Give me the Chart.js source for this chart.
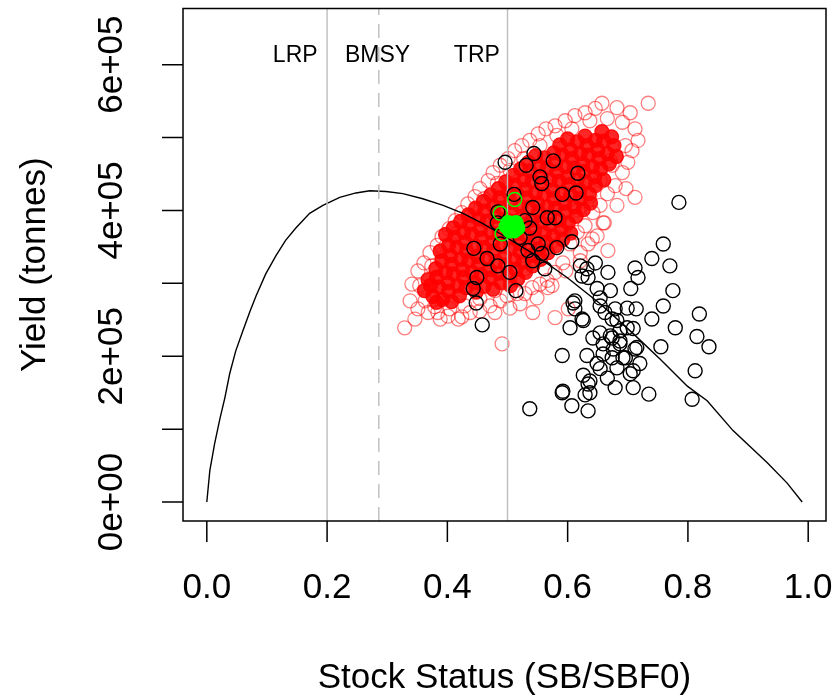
<!DOCTYPE html>
<html>
<head>
<meta charset="utf-8">
<script src="https://cdn.jsdelivr.net/npm/chart.js@4.4.1/dist/chart.umd.min.js"></script>
<style>
  html, body { margin: 0; padding: 0; background: #fff; }
  canvas { display: block; }
</style>
</head>
<body>
<canvas id="yieldPlot" width="839" height="698"></canvas>
<script>
// data ------------------------------------------->
// x = stock status (SB/SBF0), y = yield in units of 1e5 tonnes
const YUNIT = 1e5

const xTicks = [0, 0.2, 0.4, 0.6, 0.8, 1.0]
const xLabels = ['0.0', '0.2', '0.4', '0.6', '0.8', '1.0']
const yTicks = [0, 1e5, 2e5, 3e5, 4e5, 5e5, 6e5]
const yLabelTicks = [0, 2e5, 4e5, 6e5]
const yLabels = ['0e+00', '2e+05', '4e+05', '6e+05']

// reference points
const refX = [0.2, 0.286, 0.5]
const refLabels = ['LRP', 'BMSY', 'TRP']
const refLabelX = [0.147, 0.284, 0.449]
const refLabelY = 6.03e5

// equilibrium yield curve
const curve = [
  [0.0,0],[0.005,0.43],[0.013,0.80],[0.022,1.15],[0.030,1.43],[0.038,1.76],[0.048,2.07],
  [0.060,2.35],[0.072,2.62],[0.082,2.83],[0.098,3.13],[0.115,3.38],[0.131,3.59],[0.148,3.76],
  [0.171,3.96],[0.193,4.07],[0.221,4.18],[0.248,4.24],[0.271,4.27],[0.298,4.26],[0.326,4.23],
  [0.359,4.16],[0.393,4.07],[0.426,3.96],[0.459,3.82],[0.488,3.68],[0.542,3.41],[0.599,3.08],
  [0.654,2.72],[0.709,2.31],[0.754,1.96],[0.799,1.59],[0.832,1.39],[0.875,0.98],[0.932,0.54],
  [0.965,0.26],[0.990,0.0]
]

// projected states (red), dense centre of the cloud
const redCore = [
  [0.376,2.82],[0.386,2.95],[0.401,3.01],[0.410,3.13],[0.425,3.19],[0.436,3.31],[0.450,3.37],[0.461,3.49],
  [0.475,3.56],[0.486,3.68],[0.500,3.74],[0.511,3.85],[0.525,3.92],[0.536,4.04],[0.550,4.10],[0.561,4.22],
  [0.575,4.28],[0.586,4.40],[0.600,4.46],[0.611,4.58],[0.625,4.64],[0.635,4.76],[0.650,4.83],[0.660,4.95],
  [0.673,5.01],
  [0.392,2.78],[0.402,2.89],[0.417,2.97],[0.427,3.08],[0.441,3.15],[0.452,3.26],[0.466,3.33],[0.477,3.44],
  [0.491,3.51],[0.502,3.62],[0.516,3.69],[0.527,3.80],[0.541,3.87],[0.552,3.98],[0.566,4.05],[0.577,4.16],
  [0.591,4.24],[0.602,4.35],[0.616,4.42],[0.627,4.53],[0.641,4.60],[0.652,4.71],[0.666,4.78],[0.677,4.89],
  [0.372,2.97],[0.382,3.08],[0.397,3.15],[0.407,3.26],[0.422,3.33],[0.432,3.44],[0.447,3.51],[0.457,3.62],
  [0.472,3.70],[0.482,3.81],[0.497,3.88],[0.507,3.99],[0.521,4.06],[0.532,4.17],[0.546,4.24],[0.557,4.35],
  [0.571,4.42],[0.582,4.53],[0.596,4.60],[0.607,4.71],[0.621,4.78],[0.632,4.89],[0.646,4.96],[0.657,5.08],
  [0.407,2.75],[0.420,2.83],[0.431,2.94],[0.445,3.01],[0.456,3.12],[0.470,3.19],[0.481,3.30],[0.495,3.37],
  [0.505,3.48],[0.520,3.55],[0.530,3.66],[0.545,3.73],[0.555,3.84],[0.570,3.91],[0.580,4.03],[0.595,4.10],
  [0.605,4.21],[0.620,4.28],[0.630,4.39],[0.645,4.46],[0.655,4.57],[0.669,4.64],[0.681,4.74],
  [0.381,3.20],[0.391,3.31],[0.405,3.38],[0.416,3.49],[0.430,3.56],[0.441,3.67],[0.455,3.74],[0.466,3.85],
  [0.480,3.92],[0.491,4.03],[0.505,4.11],[0.516,4.22],[0.530,4.29],[0.541,4.40],[0.555,4.47],[0.566,4.58],
  [0.580,4.65],[0.591,4.76],[0.605,4.83],[0.616,4.94],[0.629,5.02],
  [0.448,2.88],[0.461,2.96],[0.472,3.07],[0.486,3.14],[0.497,3.25],[0.511,3.32],[0.521,3.43],[0.536,3.51],
  [0.546,3.62],[0.561,3.69],[0.571,3.80],[0.586,3.87],[0.596,3.98],[0.611,4.05],[0.621,4.16],[0.636,4.23],
  [0.646,4.34],[0.660,4.42],
  [0.388,3.44],[0.402,3.52],[0.412,3.63],[0.427,3.70],[0.437,3.81],[0.452,3.88],[0.462,3.99],[0.477,4.06],
  [0.487,4.17],[0.502,4.24],[0.512,4.35],[0.527,4.42],[0.537,4.54],[0.552,4.61],[0.562,4.72],[0.577,4.79],
  [0.587,4.90],[0.600,4.98],
  [0.476,2.92],[0.489,3.01],[0.501,3.11],[0.514,3.19],[0.526,3.29],[0.539,3.38],[0.551,3.47],[0.564,3.56],
  [0.576,3.65],[0.589,3.74],[0.601,3.83],[0.614,3.92],[0.626,4.01],[0.638,4.10],
  [0.505,2.97],[0.517,3.06],[0.530,3.15],[0.542,3.24],[0.555,3.33],[0.567,3.42],[0.580,3.51],[0.592,3.60],
  [0.605,3.69],
  [0.397,3.67],[0.410,3.76],[0.422,3.85],[0.435,3.94],[0.447,4.03],[0.460,4.12],[0.472,4.21],[0.485,4.30],
  [0.497,4.39],[0.510,4.48],[0.522,4.57],[0.535,4.66],[0.547,4.75],
  [0.362,2.90],[0.368,3.05],[0.382,2.74]
]

// projected states (red), edge of the cloud
const redEdge = [
  [0.341,2.99],[0.351,3.17],[0.361,3.28],[0.371,3.42],[0.383,3.52],[0.391,3.64],[0.403,3.75],[0.413,3.86],
  [0.424,3.97],[0.434,4.09],[0.446,4.19],[0.454,4.30],[0.468,4.41],[0.476,4.52],[0.488,4.62],[0.501,4.71],
  [0.512,4.82],[0.524,4.89],[0.537,4.96],[0.551,5.05],[0.564,5.12],[0.579,5.16],[0.596,5.23],[0.612,5.30],
  [0.629,5.34],[0.646,5.40],[0.657,5.47],[0.682,5.41],[0.704,5.34],[0.734,5.47],
  [0.354,2.97],[0.374,3.24],[0.398,3.52],[0.418,3.70],[0.438,3.93],[0.461,4.16],[0.483,4.37],[0.504,4.55],
  [0.527,4.71],[0.554,4.89],[0.582,5.03],[0.607,5.12],[0.637,5.23],[0.666,5.26],[0.691,5.21],[0.712,5.12],
  [0.717,4.96],[0.707,4.82],[0.700,4.66],[0.691,4.52],[0.679,4.34],[0.712,4.18],[0.666,4.23],[0.654,4.07],
  [0.642,3.97],[0.659,3.83],[0.629,3.79],[0.616,3.70],[0.634,3.54],[0.604,3.54],[0.649,3.65],[0.667,3.45],
  [0.621,3.31],[0.592,3.28],[0.579,3.15],[0.566,3.04],[0.554,2.99],[0.541,2.94],[0.567,2.94],[0.529,2.86],
  [0.516,2.86],[0.499,2.83],[0.488,2.76],[0.601,2.65],[0.579,2.53],[0.542,2.60],[0.491,2.17],[0.471,2.69],
  [0.454,2.62],[0.438,2.60],[0.418,2.51],[0.401,2.55],[0.384,2.60],[0.368,2.60],[0.351,2.65],[0.338,2.76],
  [0.329,2.39],[0.346,2.51],[0.696,4.89],[0.671,4.68],
  [0.674,4.62],[0.654,4.41],[0.637,4.20],[0.617,4.00],[0.596,3.79],[0.576,3.59],[0.554,3.38],[0.529,3.20],
  [0.504,3.04],[0.479,2.90],[0.454,2.79],[0.429,2.69],[0.404,2.65],[0.379,2.68],[0.363,2.76],
  [0.521,2.72],[0.549,2.80],[0.574,2.97],[0.597,3.17],[0.621,3.42],[0.641,3.61],[0.661,3.83],[0.682,4.07],
  [0.697,4.30],[0.388,2.51],[0.424,2.54],[0.479,2.60],[0.504,2.66]
]

// historical states (black)
const black = [
  [0.496,4.66],[0.544,4.78],[0.576,4.68],[0.531,4.62],[0.554,4.46],[0.557,4.37],[0.617,4.51],[0.591,4.22],
  [0.614,4.24],[0.511,4.22],[0.542,4.04],[0.566,3.90],[0.579,3.90],[0.537,3.76],[0.484,3.98],[0.529,3.86],
  [0.483,3.83],[0.488,3.54],[0.521,3.63],[0.551,3.54],[0.534,3.45],[0.557,3.41],[0.582,3.49],[0.607,3.57],
  [0.542,3.31],[0.562,3.20],[0.444,3.48],[0.466,3.34],[0.484,3.24],[0.504,3.15],[0.449,3.08],[0.443,2.93],
  [0.448,2.73],[0.458,2.43],[0.514,2.90],
  [0.785,4.11],[0.759,3.54],[0.740,3.34],[0.770,3.24],[0.712,3.21],[0.717,3.08],[0.705,2.93],[0.775,2.90],
  [0.759,2.69],[0.740,2.51],[0.779,2.39],[0.819,2.58],[0.815,2.27],[0.835,2.13],[0.755,2.13],[0.812,1.80],
  [0.807,1.41],[0.735,1.48],[0.709,1.57],[0.679,1.57],[0.715,2.12],[0.714,2.65],[0.634,1.25],[0.607,1.32],
  [0.591,1.50],[0.537,1.28],[0.591,2.01],[0.604,2.39],[0.626,2.49],[0.609,2.73],[0.612,2.65],[0.624,2.51],
  [0.632,3.20],[0.624,3.10],[0.646,3.28],[0.667,3.15],[0.649,2.93],[0.654,2.80],[0.654,2.69],[0.679,2.65],
  [0.699,2.66],[0.674,2.51],[0.699,2.39],[0.709,2.38],[0.654,2.32],[0.671,2.28],[0.687,2.21],[0.642,2.25],
  [0.676,2.10],[0.632,2.01],[0.659,2.03],[0.692,1.98],[0.720,1.90],[0.626,1.74],[0.637,1.66],[0.654,1.83],
  [0.682,1.84],[0.709,1.80],[0.637,1.50],[0.629,1.47],[0.592,1.52],[0.634,1.62],[0.649,1.90],[0.666,1.70],
  [0.704,1.76],[0.674,1.98],[0.696,1.98],[0.712,2.10],[0.659,2.17],[0.687,2.35],[0.682,2.49],[0.621,3.24],
  [0.634,3.08],[0.674,2.25],[0.687,2.17],[0.612,2.76],[0.671,2.90],[0.662,2.60]
]

// current state (green)
const greenRing = [[0.512,4.15],[0.488,3.96],[0.491,3.68]]
const greenCore = [[0.501,3.83],[0.508,3.78],[0.514,3.83],[0.504,3.72],[0.511,3.72],[0.498,3.78],[0.517,3.76]]

// build ------------------------------------------->
const Y_MIN = -26000, Y_MAX = 677000
const pts = arr => arr.map(([x, y]) => ({x: x, y: y * YUNIT}))

const scatterSet = (data, border, fill, width, order) => ({
  data: pts(data),
  showLine: false,
  pointRadius: 7,
  pointHoverRadius: 7,
  pointBorderWidth: width,
  pointBorderColor: border,
  pointBackgroundColor: fill,
  order: order
})

const datasets = [
  scatterSet(greenCore, '#00ff00', '#00ff00', 1.5, 0),
  scatterSet(greenRing, '#00ff00', 'rgba(0,0,0,0)', 1.5, 1),
  scatterSet(black, '#000000', 'rgba(0,0,0,0)', 1.4, 2),
  {
    data: pts(curve),
    showLine: true,
    borderColor: '#000',
    borderWidth: 1.4,
    pointRadius: 0,
    tension: 0,
    fill: false,
    order: 4
  },
  scatterSet(redEdge, 'rgba(255,0,0,0.5)', 'rgba(0,0,0,0)', 1.3, 5),
  scatterSet(redCore, 'rgba(255,0,0,0.9)', 'rgba(255,0,0,0.85)', 1.3, 6)
]

// vertical reference lines
refX.forEach((v, i) => {
  datasets.push({
    data: [{x: v, y: Y_MIN}, {x: v, y: Y_MAX}],
    showLine: true,
    borderColor: '#bdbdbd',
    borderWidth: 1.4,
    borderDash: i == 1 ? [14, 9] : [],
    pointRadius: 0,
    fill: false,
    order: 3
  })
})

// R style frame, ticks and labels
const rFrame = {
  id: 'rFrame',
  afterDraw(chart) {
    const {ctx, chartArea: a} = chart
    const sx = chart.scales.x, sy = chart.scales.y
    ctx.save()
    ctx.strokeStyle = '#000'
    ctx.lineWidth = 1.5
    ctx.strokeRect(a.left, a.top, a.right - a.left, a.bottom - a.top)

    ctx.beginPath()
    xTicks.forEach(v => {
      let px = sx.getPixelForValue(v)
      ctx.moveTo(px, a.bottom)
      ctx.lineTo(px, a.bottom + 21)
    })
    yTicks.forEach(v => {
      let py = sy.getPixelForValue(v)
      ctx.moveTo(a.left, py)
      ctx.lineTo(a.left - 21, py)
    })
    ctx.stroke()

    ctx.fillStyle = '#000'
    ctx.font = '35px "Liberation Sans", Arial, sans-serif'
    ctx.textAlign = 'center'
    ctx.textBaseline = 'alphabetic'
    xTicks.forEach((v, i) => ctx.fillText(xLabels[i], sx.getPixelForValue(v), a.bottom + 77))
    ctx.fillText('Stock Status (SB/SBF0)', (a.left + a.right) / 2, a.bottom + 167)

    yLabelTicks.forEach((v, i) => {
      ctx.save()
      ctx.translate(a.left - 61, sy.getPixelForValue(v))
      ctx.rotate(-Math.PI / 2)
      ctx.fillText(yLabels[i], 0, 0)
      ctx.restore()
    })
    ctx.save()
    ctx.translate(a.left - 138, (a.top + a.bottom) / 2)
    ctx.rotate(-Math.PI / 2)
    ctx.fillText('Yield (tonnes)', 0, 0)
    ctx.restore()

    ctx.font = '23px "Liberation Sans", Arial, sans-serif'
    refLabels.forEach((t, i) => {
      ctx.fillText(t, sx.getPixelForValue(refLabelX[i]), sy.getPixelForValue(refLabelY))
    })
    ctx.restore()
  }
}

new Chart(document.getElementById('yieldPlot').getContext('2d'), {
  type: 'scatter',
  data: {datasets: datasets},
  options: {
    responsive: false,
    animation: false,
    devicePixelRatio: 1,
    layout: {padding: {left: 183, right: 13, top: 8, bottom: 177}},
    scales: {
      x: {type: 'linear', min: -0.0396, max: 1.0296, display: false},
      y: {type: 'linear', min: Y_MIN, max: Y_MAX, display: false}
    },
    plugins: {
      legend: {display: false},
      tooltip: {enabled: false}
    }
  },
  plugins: [rFrame]
})
</script>
</body>
</html>
